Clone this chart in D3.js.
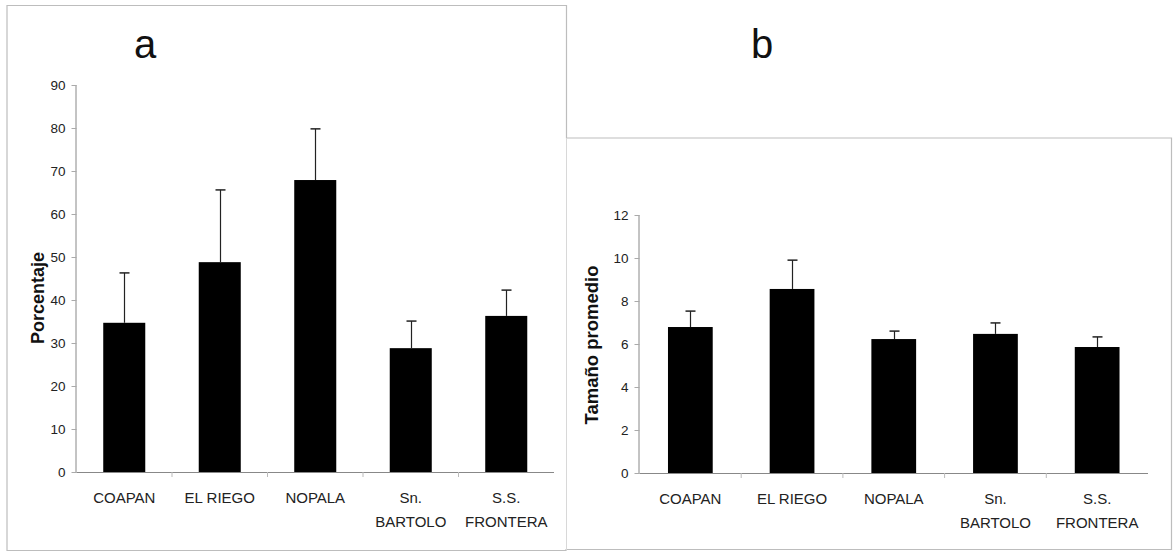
<!DOCTYPE html>
<html><head><meta charset="utf-8">
<script src="https://cdn.jsdelivr.net/npm/d3@7"></script>
<style>body{margin:0;background:#fff}svg{display:block}</style>
</head><body>
<svg id="c" width="1176" height="560"></svg>
<script>
const categories = ["COAPAN","EL RIEGO","NOPALA","Sn.|BARTOLO","S.S.|FRONTERA"];
const pctMean = [34.7, 48.8, 67.9, 28.8, 36.3];
const pctErr  = [11.6, 16.8, 11.9, 6.3, 6.0];
const pctTicks = [0,10,20,30,40,50,60,70,80,90];
const sizeMean = [6.79, 8.56, 6.23, 6.47, 5.86];
const sizeErr  = [0.74, 1.34, 0.37, 0.51, 0.47];
const sizeTicks = [0,2,4,6,8,10,12];

const svg = d3.select("#c");
const font = "Arial, 'Liberation Sans', sans-serif";

// panel frames
svg.append("path").attr("d","M7,5.5 H566.5 V138 H1171.5 V549.5 H566 V550.5 H7 Z")
  .attr("fill","none").attr("stroke","#bdbdbd").attr("stroke-width",1.2);
svg.append("line").attr("x1",566.5).attr("x2",566.5).attr("y1",138).attr("y2",550)
  .attr("stroke","#d8d8d8").attr("stroke-width",1);

function panel(opt){
  const x = d3.scaleBand().domain(categories).range([opt.x0, opt.x1]).paddingInner(0.56).paddingOuter(0.28);
  const y = d3.scaleLinear().domain([0, opt.max]).range([opt.y0, opt.yTop]);
  const g = svg.append("g");
  // y axis
  const ya = g.append("g").attr("transform",`translate(${opt.x0},0)`)
    .call(d3.axisLeft(y).tickValues(opt.ticks).tickSize(5).tickPadding(6));
  ya.select(".domain").attr("stroke","#888").attr("d",`M-0.5,${opt.yTop}V${opt.y0}`);
  ya.selectAll(".tick line").attr("stroke","#aaa");
  ya.selectAll(".tick text").attr("font-family",font).attr("font-size",13.5).attr("fill","#222");
  // x axis
  const xa = g.append("g").attr("transform",`translate(0,${opt.y0})`);
  xa.append("line").attr("x1",opt.x0).attr("x2",opt.x1).attr("y1",0.5).attr("y2",0.5).attr("stroke","#888");
  const step = (opt.x1-opt.x0)/categories.length;
  d3.range(1,categories.length).forEach(i=>{
    xa.append("line").attr("x1",opt.x0+i*step).attr("x2",opt.x0+i*step).attr("y1",0).attr("y2",5).attr("stroke","#bbb");
  });
  categories.forEach(c=>{
    const lines = c.split("|");
    const t = xa.append("text").attr("x",x(c)+x.bandwidth()/2).attr("y",31)
      .attr("text-anchor","middle").attr("font-family",font).attr("font-size",15).attr("fill","#222");
    lines.forEach((l,i)=>t.append("tspan").attr("x",x(c)+x.bandwidth()/2).attr("dy",i?24:0).text(l));
  });
  // bars
  g.selectAll("rect.bar").data(opt.mean).join("rect")
    .attr("x",(d,i)=>x(categories[i])).attr("width",x.bandwidth())
    .attr("y",d=>y(d)).attr("height",d=>y(0)-y(d)).attr("fill","#000");
  // error bars
  opt.mean.forEach((m,i)=>{
    const cx = Math.round(x(categories[i])+x.bandwidth()/2)+0.5;
    g.append("line").attr("x1",cx).attr("x2",cx).attr("y1",y(m)).attr("y2",y(m+opt.err[i])).attr("stroke","#222").attr("stroke-width",1.2);
    g.append("line").attr("x1",cx-5).attr("x2",cx+5).attr("y1",y(m+opt.err[i])).attr("y2",y(m+opt.err[i])).attr("stroke","#222").attr("stroke-width",1.5);
  });
  // y title
  g.append("text").attr("transform",`translate(${opt.titleX},${opt.titleY}) rotate(-90)`)
    .attr("text-anchor","middle").attr("font-family",font).attr("font-weight","bold").attr("font-size",opt.titleSize).attr("fill","#111")
    .text(opt.title);
  // panel letter
  svg.append("text").attr("x",opt.letterX).attr("y",58).attr("font-family",font).attr("font-size",40).attr("fill","#111").attr("text-anchor","middle").text(opt.letter);
}

panel({x0:76.5, x1:554, y0:472, yTop:85, max:90, ticks:pctTicks, mean:pctMean, err:pctErr,
  title:"Porcentaje", titleSize:18, titleX:44, titleY:298, letter:"a", letterX:145});
panel({x0:639.5, x1:1148, y0:473, yTop:215, max:12, ticks:sizeTicks, mean:sizeMean, err:sizeErr,
  title:"Tamaño promedio", titleSize:18.5, titleX:598, titleY:345, letter:"b", letterX:762});
</script>
</body></html>
